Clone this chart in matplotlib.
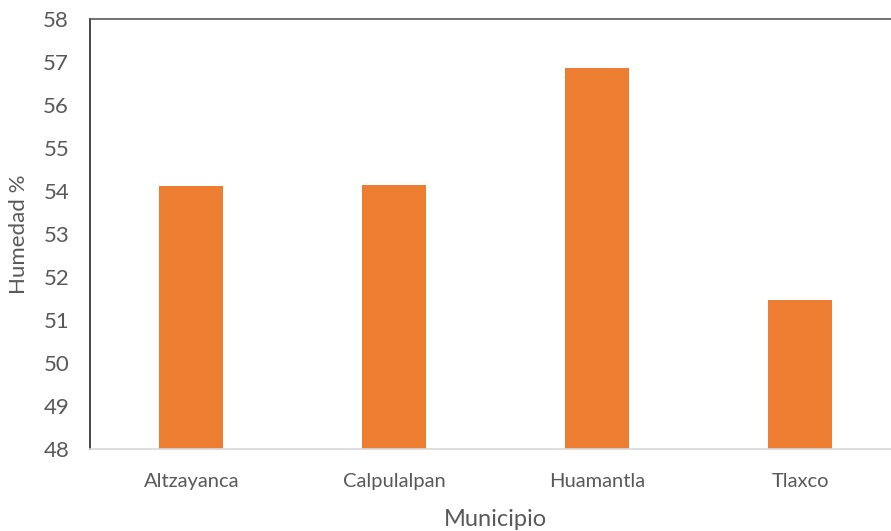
import matplotlib.pyplot as plt

municipios = ["Altzayanca", "Calpulalpan", "Huamantla", "Tlaxco"]
humedad = [54.12, 54.15, 56.87, 51.47]
yticks = list(range(48, 59))

plt.rcParams['font.family'] = ['Lato', 'DejaVu Sans']
txt = '#595959'

fig = plt.figure(figsize=(8.91, 5.31), dpi=100)
ax = fig.add_axes([0.101, 0.1544, 0.911, 0.8089])
x = range(len(municipios))
ax.bar(x, humedad, width=0.315, color='#ed7d31', zorder=2)
ax.set_xlim(-0.5, len(municipios) - 0.5)
ax.set_ylim(48, 58)
ax.set_yticks(yticks)
ax.set_xticks(list(x))
ax.set_xticklabels(municipios)
ax.tick_params(axis='both', length=0, colors=txt)
ax.tick_params(axis='y', labelsize=16, pad=15)
ax.tick_params(axis='x', labelsize=14.5, pad=17)
ax.set_xlabel("Municipio", fontsize=17, color=txt, labelpad=14)
ax.set_ylabel("Humedad %", fontsize=16, color=txt, labelpad=10)
ax.spines['left'].set_color('#262626')
ax.spines['top'].set_color('#595959')
ax.spines['bottom'].set_color('#d9d9d9')
ax.spines['right'].set_visible(False)
for s in ax.spines.values():
    s.set_linewidth(1.2)
fig.savefig("out.png", dpi=100)
